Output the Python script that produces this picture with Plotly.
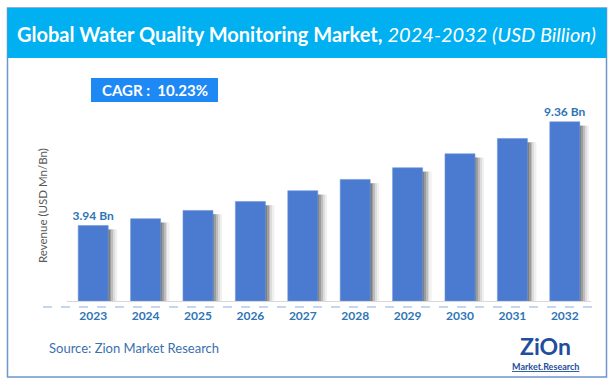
import plotly.graph_objects as go

years = ["2023", "2024", "2025", "2026", "2027", "2028", "2029", "2030", "2031", "2032"]
revenue = [3.94, 4.30, 4.73, 5.20, 5.76, 6.35, 6.96, 7.69, 8.49, 9.36]
label_text = ["3.94 Bn", "", "", "", "", "", "", "", "", "9.36 Bn"]
title_bold = "Global Water Quality Monitoring Market,"
title_italic = "2024-2032 (USD Billion)"
cagr_text = "CAGR :  10.23%"
source_text = "Source: Zion Market Research"
y_title = "Revenue (USD Mn/Bn)"

W, H = 615, 386
L, R, T, B = 67, 591, 100, 301
YMAX = 10.5
FONT = "Lato"
BLUE_TXT = "#2e75b6"


def px(x):
    return (x - L) / (R - L)


def py(y):
    return (B - y) / (B - T)


BAR_W = 0.573
fig = go.Figure()

# soft shadow strips on right side of bars
shadow_cols = ["#7f7f7f", "#9c9c9c", "#bdbdbd", "#dcdcdc", "#f0f0f0"]
strip = 1.8 / 52.4
for i, c in enumerate(shadow_cols):
    fig.add_trace(go.Bar(
        x=years, y=[v - 0.2 for v in revenue],
        width=strip, offset=BAR_W / 2 + i * strip,
        marker=dict(color=c, line=dict(width=0)),
        hoverinfo="skip", showlegend=False))

fig.add_trace(go.Bar(
    x=years, y=revenue, width=BAR_W,
    marker=dict(color="#4a7bd0", line=dict(color="#6f97dc", width=0.6)),
    text=label_text, textposition="outside", constraintext="none",
    textfont=dict(family=FONT, size=12, color=BLUE_TXT, weight="bold"),
    cliponaxis=False, showlegend=False))

shapes = [
    # outer frame
    dict(type="rect", xref="paper", yref="paper", x0=px(7.5), x1=px(606.5),
         y0=py(377), y1=py(8), line=dict(color="#6f95cf", width=1.5),
         fillcolor="rgba(0,0,0,0)", layer="below"),
    # title bar
    dict(type="rect", xref="paper", yref="paper", x0=px(7.5), x1=px(606.5),
         y0=py(58), y1=py(8), line=dict(width=0), fillcolor="#00b0f0"),
    # CAGR box
    dict(type="rect", xref="paper", yref="paper", x0=px(91), x1=px(218),
         y0=py(102), y1=py(78), line=dict(width=0), fillcolor="#1e88f5"),
    # dashed line
    dict(type="line", xref="paper", yref="paper", x0=px(43), x1=px(592),
         y0=py(307), y1=py(307), line=dict(color="#8eaadb", width=1, dash="dash")),
]

annotations = [
    dict(xref="paper", yref="paper", x=px(306), y=py(34), showarrow=False,
         xanchor="center", yanchor="middle",
         text=f"<b>{title_bold}</b> <i>{title_italic}</i>",
         font=dict(family=FONT, size=20, color="white")),
    dict(xref="paper", yref="paper", x=px(154.5), y=py(90), showarrow=False,
         xanchor="center", yanchor="middle", text=f"<b>{cagr_text}</b>",
         font=dict(family=FONT, size=15, color="white")),
    dict(xref="paper", yref="paper", x=px(47), y=py(348), showarrow=False,
         xanchor="left", yanchor="middle", text=source_text,
         font=dict(family=FONT, size=13, color="#3b6fae")),
    dict(xref="paper", yref="paper", x=px(42), y=py(206), showarrow=False,
         xanchor="center", yanchor="middle", text=y_title, textangle=-90,
         font=dict(family=FONT, size=11.5, color="#595959")),
    # logo approximation
    dict(xref="paper", yref="paper", x=px(545), y=py(346), showarrow=False,
         xanchor="center", yanchor="middle", text="<b>ZiOn</b>",
         font=dict(family=FONT, size=23, color="#1f4e9c")),
    dict(xref="paper", yref="paper", x=px(545), y=py(366), showarrow=False,
         xanchor="center", yanchor="middle",
         text="<b><u>Market.Research</u></b>",
         font=dict(family=FONT, size=9, color="#1f4e9c")),
]

fig.update_layout(
    width=W, height=H,
    margin=dict(l=L, r=W - R, t=T, b=H - B, autoexpand=False),
    paper_bgcolor="white", plot_bgcolor="white",
    barmode="overlay", bargap=0.4,
    shapes=shapes, annotations=annotations,
    showlegend=False,
    xaxis=dict(showgrid=False, showline=True, linecolor="#d9d9d9", linewidth=1,
               ticks="", ticklabelstandoff=4, automargin=False,
               tickfont=dict(family=FONT, size=12, color=BLUE_TXT, weight="bold")),
    yaxis=dict(range=[0, YMAX], showgrid=False, showticklabels=False,
               zeroline=False, showline=False, automargin=False),
)

fig.write_html("out.html", config={"displayModeBar": False},
               post_script="document.body.style.margin='0';")
